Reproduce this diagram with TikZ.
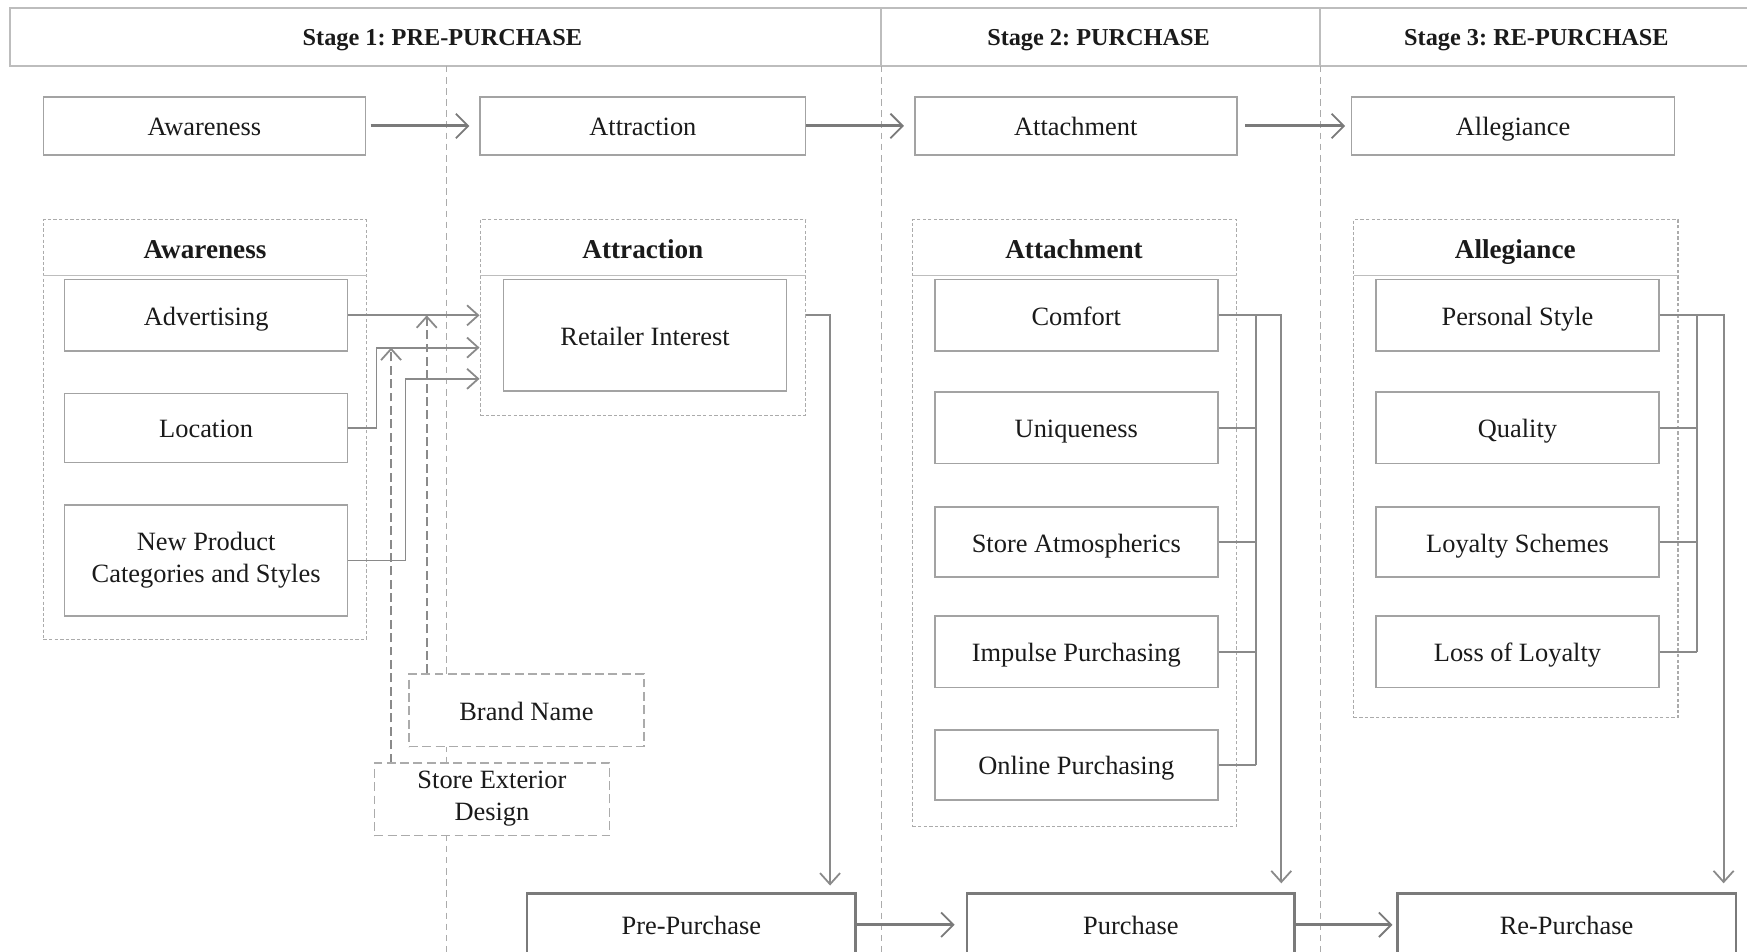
\documentclass[tikz,border=0pt]{standalone}
\usepackage{fontspec}
\setmainfont{Liberation Serif}
\usetikzlibrary{arrows.meta,calc}
\definecolor{bordergray}{HTML}{A3A3A3}
\definecolor{linegray}{HTML}{8A8A8A}
\definecolor{dotgray}{HTML}{ABABAB}
\definecolor{darkline}{HTML}{7A7A7A}
\definecolor{hdrgray}{HTML}{BDBDBD}
\definecolor{txtcol}{HTML}{1A1A1A}
\frenchspacing
\newcommand\mytxt{\fontsize{11.85}{14.4}\selectfont}
\newcommand\mygrp{\fontsize{12.2}{14}\selectfont\bfseries}
\newcommand\myhdr{\fontsize{10.9}{13}\selectfont\bfseries}
\newcommand\mystrut{\rule[-3pt]{0pt}{15pt}}
% \bx{style}{name}{x1}{y1}{x2}{y2}{text}
\newcommand\bx[7]{\node[#1, minimum width={(#5-#3)*0.5pt}, minimum height={(#6-#4)*0.5pt}] (#2) at ({(#3+#5)/2},{(#4+#6)/2}) {#7};}
\begin{document}
\begin{tikzpicture}[x=0.5pt,y=-0.5pt,
  box/.style={draw=bordergray, line width=0.7pt, inner sep=0pt, fill=white, font=\mytxt, text=txtcol, align=center,
    execute at begin node=\mystrut, execute at end node=\mystrut},
  bigbox/.style={draw=darkline, line width=1.2pt, inner sep=0pt, fill=white, font=\mytxt, text=txtcol,
    execute at begin node=\mystrut},
  grp/.style={draw=dotgray, line width=0.6pt, dash pattern=on 1.5pt off 1pt, inner sep=0pt},
  dbox/.style={draw=dotgray, line width=0.7pt, dash pattern=on 4pt off 2pt, inner sep=0pt, fill=white, font=\mytxt, text=txtcol, align=center,
    execute at begin node=\mystrut, execute at end node=\mystrut},
  conn/.style={draw=linegray, line width=0.8pt},
  arr/.style={conn, -{Straight Barb[length=5pt,width=9pt]}},
  darr/.style={arr, dash pattern=on 4pt off 2pt},
  toparr/.style={draw=darkline, line width=1.4pt, -{Straight Barb[length=5.5pt,width=11pt,line width=0.8pt]}},
  lane/.style={draw=dotgray, line width=0.5pt, dash pattern=on 3pt off 2pt},
  sepline/.style={draw=hdrgray, line width=0.5pt},
  grplabel/.style={font=\mygrp, text=txtcol, execute at begin node=\mystrut},
  hdrlabel/.style={font=\myhdr, text=txtcol, execute at begin node=\mystrut}
]
\useasboundingbox (0,0) rectangle (1568,853.6);
% header
\draw[draw=hdrgray, line width=0.8pt] (9,7) rectangle (1600,59);
\draw[draw=hdrgray, line width=0.8pt] (791,7) -- (791,59) (1185,7) -- (1185,59);
\node[hdrlabel] (h1) at (397,32) {Stage 1: PRE-PURCHASE};
\node[hdrlabel] (h2) at (986,32) {Stage 2: PURCHASE};
\node[hdrlabel] (h3) at (1379,32) {Stage 3: RE-PURCHASE};
% lanes
\draw[lane] (401,59) -- (401,870);
\draw[lane] (791,59) -- (791,870);
\draw[lane] (1185,59) -- (1185,870);
% row 1
\bx{box}{r1a}{39}{87}{328}{139}{Awareness}
\bx{box}{r1b}{431}{87}{723}{139}{Attraction}
\bx{box}{r1c}{821}{87}{1110}{139}{Attachment}
\bx{box}{r1d}{1213}{87}{1503}{139}{Allegiance}
\draw[toparr] ([xshift=2pt]r1a.east) -- ([xshift=-4.5pt]r1b.west);
\draw[toparr] (r1b.east) -- ([xshift=-4.5pt]r1c.west);
\draw[toparr] ([xshift=3.5pt]r1c.east) -- ([xshift=-2.5pt]r1d.west);
% groups
\bx{grp}{awgrp}{39}{197}{329}{574}{}
\bx{grp}{atgrp}{431}{197}{723}{373}{}
\bx{grp}{acgrp}{819}{197}{1110}{742}{}
\bx{grp}{algrp}{1215}{197}{1506}{644}{}
\draw[sepline] (39,247) -- (329,247);
\draw[sepline] (431,247) -- (723,247);
\draw[sepline] (819,247) -- (1110,247);
\draw[sepline] (1215,247) -- (1506,247);
\node[grplabel] (g1) at (184,223) {Awareness};
\node[grplabel] (g2) at (577,223) {Attraction};
\node[grplabel] (g3) at (964,223) {Attachment};
\node[grplabel] (g4) at (1360,223) {Allegiance};
% awareness items
\bx{box}{adv}{58}{251}{312}{315}{Advertising}
\bx{box}{loc}{58}{353}{312}{415}{Location}
\bx{box}{npc}{58}{453}{312}{553}{New Product\\Categories and Styles}
% attraction
\bx{box}{ret}{452}{251}{706}{351}{Retailer Interest}
% attachment items
\bx{box}{comf}{839}{251}{1093}{315}{Comfort}
\bx{box}{uniq}{839}{352}{1093}{416}{Uniqueness}
\bx{box}{atm}{839}{455}{1093}{518}{Store Atmospherics}
\bx{box}{imp}{839}{553}{1093}{617}{Impulse Purchasing}
\bx{box}{onl}{839}{655}{1093}{718}{Online Purchasing}
% allegiance items
\bx{box}{pers}{1235}{251}{1489}{315}{Personal Style}
\bx{box}{qual}{1235}{352}{1489}{416}{Quality}
\bx{box}{loys}{1235}{455}{1489}{518}{Loyalty Schemes}
\bx{box}{lossl}{1235}{553}{1489}{617}{Loss of Loyalty}
% dashed boxes
\bx{dbox}{brand}{367}{605}{578}{670}{Brand Name}
\bx{dbox}{sed}{336}{685}{547}{750}{Store Exterior\\Design}
% bottom boxes
\bx{bigbox}{pre}{473}{802}{768}{858}{Pre-Purchase}
\bx{bigbox}{pur}{868}{802}{1162}{858}{Purchase}
\bx{bigbox}{rep}{1254}{802}{1558}{858}{Re-Purchase}
% awareness connectors
\coordinate (lj) at (338,312);
\coordinate (nj) at (364,340);
\draw[arr] (adv.east) -- (adv.east -| atgrp.west);
\draw[arr] (loc.east) -| (lj) -- (lj -| atgrp.west);
\draw[arr] (npc.east) -| (nj) -- (nj -| atgrp.west);
\coordinate (bx) at (383,283);
\coordinate (sx) at (351,312);
\draw[darr] (bx |- brand.north) -- (bx);
\draw[darr] (sx |- sed.north) -- (sx);
% retailer to pre-purchase
\coordinate (rc) at (745,283);
\draw[arr, shorten >=3pt] (rc -| atgrp.east) -- (rc) -- (rc |- pre.north);
% attachment bus
\coordinate (cb) at (1127,0);
\coordinate (cl) at (1150,0);
\draw[arr, shorten >=4pt] (comf.east) -- (comf.east -| cl) -- (cl |- pur.north);
\draw[conn] (comf.east -| cb) -- (onl.east -| cb);
\foreach \n in {uniq,atm,imp,onl} \draw[conn] (\n.east) -- (\n.east -| cb);
% allegiance bus
\coordinate (ab) at (1523,0);
\coordinate (al) at (1547,0);
\draw[arr, shorten >=4pt] (pers.east) -- (pers.east -| al) -- (al |- rep.north);
\draw[conn] (pers.east -| ab) -- (lossl.east -| ab);
\foreach \n in {qual,loys,lossl} \draw[conn] (\n.east) -- (\n.east -| ab);
% bottom arrows
\draw[toparr] (pre.east) -- ([xshift=-5pt]pur.west);
\draw[toparr] (pur.east) -- ([xshift=-1.5pt]rep.west);
\end{tikzpicture}
\end{document}
